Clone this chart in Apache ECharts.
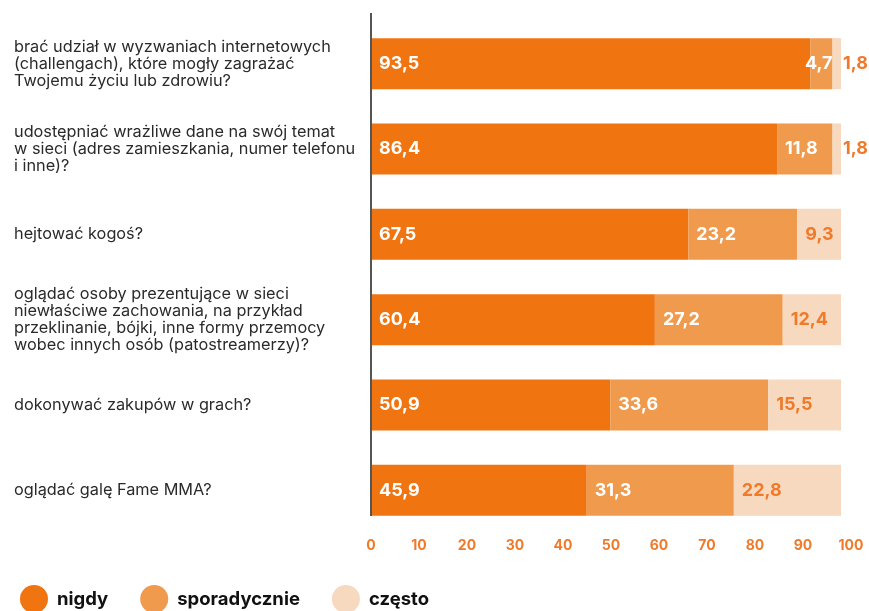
<!DOCTYPE html>
<html><head><meta charset="utf-8">
<script src="https://cdn.jsdelivr.net/npm/echarts@6/dist/echarts.min.js"></script>
<style>html,body{margin:0;padding:0;background:#fff}#c{width:869px;height:611px}</style>
</head><body><div id="c"></div>
<script>
const categories = [
  "brać udział w wyzwaniach internetowych\n(challengach), które mogły zagrażać\nTwojemu życiu lub zdrowiu?",
  "udostępniać wrażliwe dane na swój temat\nw sieci (adres zamieszkania, numer telefonu\ni inne)?",
  "hejtować kogoś?",
  "oglądać osoby prezentujące w sieci\nniewłaściwe zachowania, na przykład\nprzeklinanie, bójki, inne formy przemocy\nwobec innych osób (patostreamerzy)?",
  "dokonywać zakupów w grach?",
  "oglądać galę Fame MMA?"
];
const nigdy = [93.5, 86.4, 67.5, 60.4, 50.9, 45.9];
const sporadycznie = [4.7, 11.8, 23.2, 27.2, 33.6, 31.3];
const czesto = [1.8, 1.8, 9.3, 12.4, 15.5, 22.8];
const tickLabels = [0, 10, 20, 30, 40, 50, 60, 70, 80, 90, 100];
const seriesNames = ["nigdy", "sporadycznie", "często"];

const FONT = "Inter";
const fmt = v => String(v).replace('.', ',');
const chart = echarts.init(document.getElementById('c'));

function items(arr, smallRule) {
  return arr.map(v => {
    const o = { value: v };
    if (smallRule && v < 6) o.label = smallRule;
    return o;
  });
}

const labelBase = {
  show: true, position: 'insideLeft', distance: 8,
  fontFamily: FONT, fontWeight: 'bold', fontSize: 18,
  formatter: p => fmt(p.value)
};

chart.setOption({
  animation: false,
  textStyle: { fontFamily: FONT },
  grid: { left: 371, right: 18, top: 21, bottom: 78, containLabel: false },
  xAxis: [
    { type: 'value', min: 0, max: 480 / 4.7, show: false },
    { type: 'value', min: 0, max: 100, interval: 10, position: 'bottom',
      axisLine: { show: false }, axisTick: { show: false }, splitLine: { show: false },
      axisLabel: { color: '#F07A2A', fontWeight: 'bold', fontSize: 14, fontFamily: FONT, margin: 6,
        formatter: v => tickLabels.includes(v) ? String(v) : '' } }
  ],
  yAxis: {
    type: 'category', data: categories, inverse: true,
    axisLine: { show: false }, axisTick: { show: false }, splitLine: { show: false },
    axisLabel: { align: 'left', margin: 357, color: '#2a2a2a', fontSize: 16.3, lineHeight: 17, fontFamily: FONT }
  },
  legend: {
    data: seriesNames, left: 20, top: 585, padding: 0, icon: 'circle', itemWidth: 28, itemHeight: 28, itemGap: 32,
    textStyle: { fontFamily: FONT, fontWeight: 'bold', fontSize: 18.5, color: '#111', padding: [0, 0, 0, 4] }
  },
  series: [
    { name: seriesNames[0], type: 'bar', stack: 's', xAxisIndex: 0, barWidth: 51,
      itemStyle: { color: '#F07410' }, data: items(nigdy),
      label: Object.assign({}, labelBase, { color: '#fff' }) },
    { name: seriesNames[1], type: 'bar', stack: 's', xAxisIndex: 0, barWidth: 51,
      itemStyle: { color: '#EF9A4C' },
      data: items(sporadycznie, { position: 'insideRight', distance: 0 }),
      label: Object.assign({}, labelBase, { color: '#fff' }) },
    { name: seriesNames[2], type: 'bar', stack: 's', xAxisIndex: 0, barWidth: 51,
      itemStyle: { color: '#F6D9BF' },
      data: items(czesto, { position: 'right', distance: 2 }),
      label: Object.assign({}, labelBase, { color: '#F07A2A' }) }
  ],
  graphic: [{ type: 'line', shape: { x1: 371, y1: 13, x2: 371, y2: 516 },
    style: { stroke: '#555', lineWidth: 2 }, z: 100 }]
});
</script></body></html>
